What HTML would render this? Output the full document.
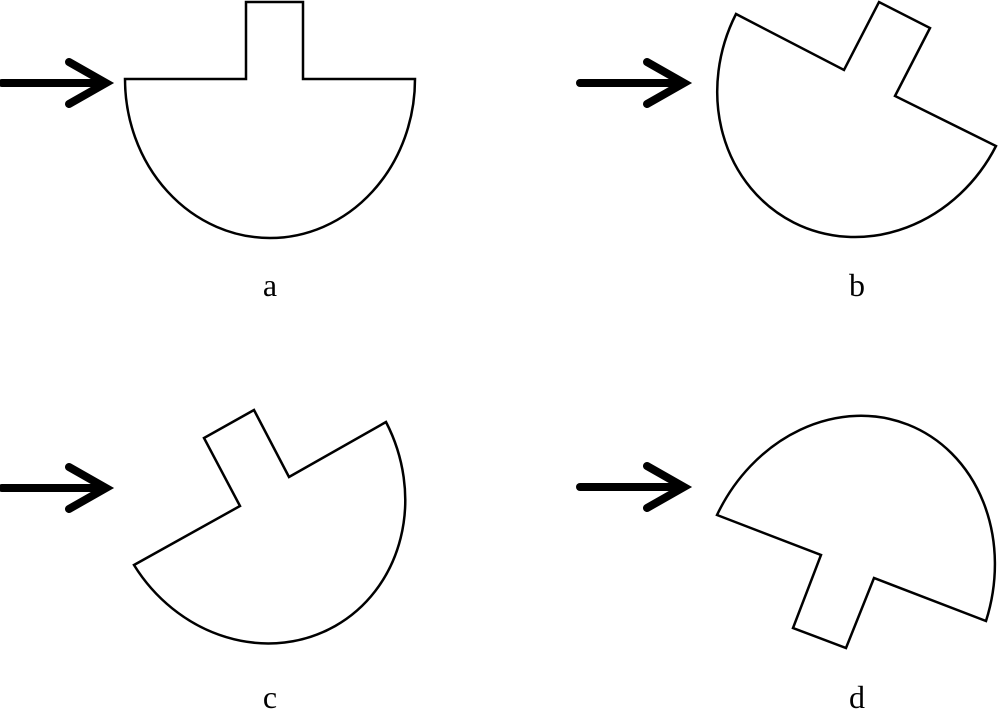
<!DOCTYPE html>
<html><head><style>html,body{margin:0;padding:0;background:#fff}svg{display:block}</style></head>
<body>
<svg width="1000" height="723" viewBox="0 0 1000 723" xmlns="http://www.w3.org/2000/svg">
<defs>
<g id="arr"><line x1="2" y1="0" x2="104" y2="0" stroke="#000" stroke-width="8" stroke-linecap="round"/>
<polyline points="69,-21 106,0 69,21" fill="none" stroke="#000" stroke-width="8" stroke-linecap="round" stroke-linejoin="miter"/></g>
</defs>
<g fill="none" stroke="#000" stroke-width="2.5" stroke-linejoin="miter">
<path d="M415 79 A145 159 0 0 1 125 79 L246 79 L246 2 L303 2 L303 79 Z"/>
<path d="M996 146 A145 159 27 0 1 736 14 L844 70 L879 2 L930 28 L895 96 Z"/>
<path d="M386 422 A145 159 -29.6 0 1 134 565 L240 506 L204 438 L254 410 L289 477 Z"/>
<path d="M717 515 A145 167 21.5 0 1 986 621 L874 578 L846 648 L793 628 L821 555 Z"/>
</g>
<use href="#arr" x="0" y="83"/>
<use href="#arr" x="578" y="83"/>
<use href="#arr" x="0" y="488"/>
<use href="#arr" x="578" y="487"/>
<g font-family="Liberation Serif, serif" font-size="32" text-anchor="middle" fill="#000">
<text x="270" y="296">a</text>
<text x="857" y="296">b</text>
<text x="270" y="708">c</text>
<text x="857" y="708">d</text>
</g>
</svg>
</body></html>
